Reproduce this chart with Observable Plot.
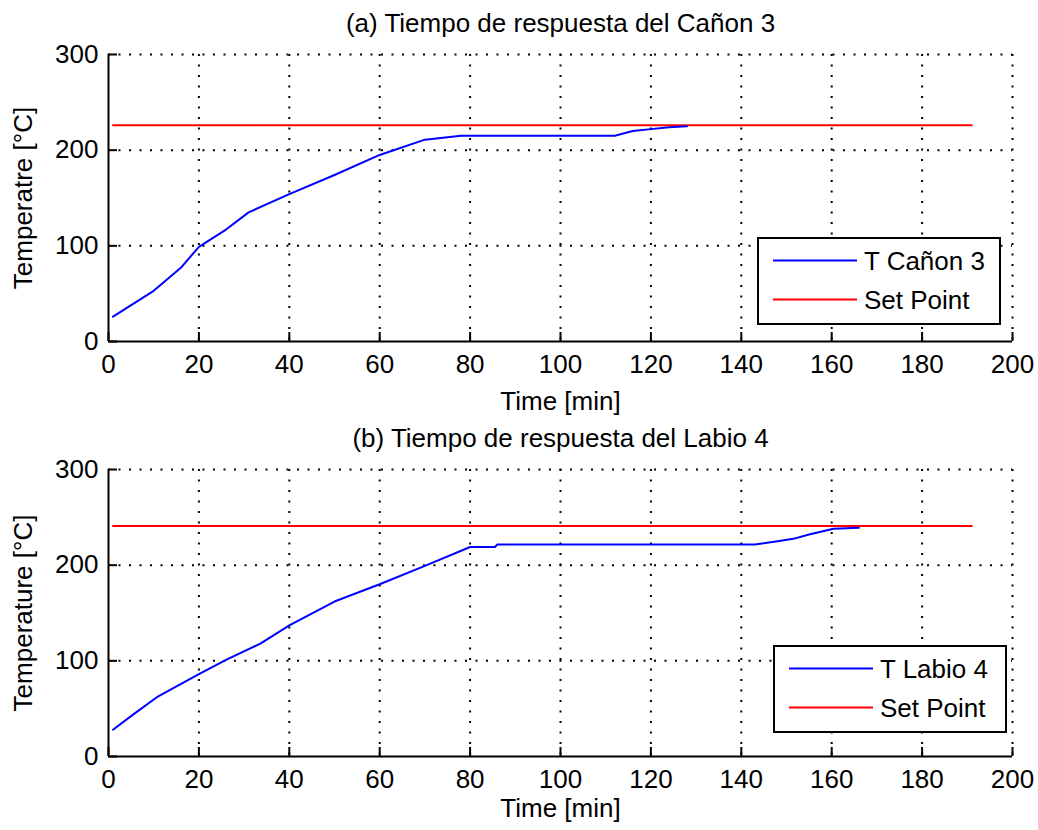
<!DOCTYPE html>
<html>
<head>
<meta charset="utf-8">
<script src="https://cdn.jsdelivr.net/npm/d3@7"></script>
<script src="https://cdn.jsdelivr.net/npm/@observablehq/plot@0.6"></script>
<style>
  html, body { margin: 0; padding: 0; background: #fff; overflow: hidden; }
  #root { position: relative; width: 1038px; height: 830px; }
  .panel { position: relative; width: 1038px; height: 415px; }
  .legend { position: absolute; box-sizing: border-box; border: 2px solid #000; background: #fff; height: 88px; }
  .legend svg { position: absolute; left: 0; top: 0; overflow: visible; }
</style>
</head>
<body>
<div id="root"></div>
<script>
// ---- data ----
const xTicks = [0, 20, 40, 60, 80, 100, 120, 140, 160, 180, 200];
const yTicks = [0, 100, 200, 300];

const titleA = "(a) Tiempo de respuesta del Cañon 3";
const ylabelA = "Temperatre [°C]";
const seriesA = "T Cañon 3";
const timeA = [1, 10, 16, 20, 26, 31, 40, 50, 60, 70, 74, 78, 112, 116, 120, 124, 128];
const tempA = [26, 53, 77, 99, 117, 135, 154, 174, 195, 211, 213, 215, 215, 220, 222, 224, 225];
const setPointA = 226;

const titleB = "(b) Tiempo de respuesta del Labio 4";
const ylabelB = "Temperature [°C]";
const seriesB = "T Labio 4";
const timeB = [1, 5.5, 10.7, 20, 26, 33.6, 40, 50, 60, 70.4, 80, 85.5, 86, 143, 148, 151.5, 155, 160.4, 166];
const tempB = [28, 44, 62, 86, 101, 118, 137, 162, 180, 200, 219, 219, 221.5, 221.5, 225, 227.5, 232, 238, 239];
const setPointB = 241;

const setPointTime = [1, 191];
const setPointName = "Set Point";
const xLabel = "Time [min]";

const FONT = "'Liberation Sans', Arial, Helvetica, sans-serif";

function panel(title, ylabel, times, temps, sp, xLabelDy) {
  const data = times.map((t, i) => ({t, v: temps[i]}));
  const spData = setPointTime.map(t => ({t, v: sp}));
  const grid = {stroke: "#000", strokeWidth: 2, strokeDasharray: "2,8.5"};
  return Plot.plot({
    width: 1038, height: 415,
    marginTop: 54, marginBottom: 74, marginLeft: 108, marginRight: 26,
    x: {domain: [0, 200]},
    y: {domain: [0, 300]},
    style: {fontFamily: FONT, fontSize: "26px", color: "#000", background: "#fff", overflow: "visible"},
    marks: [
      Plot.ruleY(yTicks.filter(d => d > 0), grid),
      Plot.ruleX(xTicks.filter(d => d > 0), grid),
      Plot.line(spData, {x: "t", y: "v", stroke: "#ff0000", strokeWidth: 2}),
      Plot.line(data, {x: "t", y: "v", stroke: "#0000ff", strokeWidth: 2}),
      Plot.ruleY([0], {stroke: "#000", strokeWidth: 2}),
      Plot.ruleX([0], {stroke: "#000", strokeWidth: 2}),
      Plot.axisX({ticks: xTicks, tickSize: -9, tickPadding: 22, label: null, strokeWidth: 2, tickFormat: d => d}),
      Plot.axisY({ticks: yTicks, tickSize: -9, tickPadding: 19, label: null, strokeWidth: 2, tickFormat: d => d}),
      Plot.text([title], {frameAnchor: "top", dy: -41, textAnchor: "middle", fill: "#000"}),
      Plot.text([xLabel], {frameAnchor: "bottom", dy: xLabelDy, textAnchor: "middle", fill: "#000"}),
      Plot.text([ylabel], {frameAnchor: "left", rotate: -90, dx: -85, textAnchor: "middle", fill: "#000"})
    ]
  });
}

function legend(name, left, top, width) {
  const div = document.createElement("div");
  div.className = "legend";
  div.style.left = left + "px";
  div.style.top = top + "px";
  div.style.width = width + "px";
  const rows = [{label: name, color: "#0000ff"}, {label: setPointName, color: "#ff0000"}];
  const svg = d3.create("svg").attr("width", width).attr("height", 88)
    .style("left", "-2px").style("top", "-2px");
  rows.forEach((r, i) => {
    const y = 23.5 + i * 39;
    svg.append("line").attr("x1", 16).attr("x2", 100).attr("y1", y).attr("y2", y)
      .attr("stroke", r.color).attr("stroke-width", 2);
    svg.append("text").attr("x", 107).attr("y", y + 9.5).text(r.label)
      .attr("font-family", FONT).attr("font-size", 26).attr("fill", "#000");
  });
  div.appendChild(svg.node());
  return div;
}

const root = document.getElementById("root");
const pA = document.createElement("div"); pA.className = "panel";
pA.appendChild(panel(titleA, ylabelA, timeA, tempA, setPointA, 68));
pA.appendChild(legend(seriesA, 757, 237, 244));
const pB = document.createElement("div"); pB.className = "panel";
pB.appendChild(panel(titleB, ylabelB, timeB, tempB, setPointB, 60));
pB.appendChild(legend(seriesB, 773, 230, 234));
root.appendChild(pA);
root.appendChild(pB);
</script>
</body>
</html>
